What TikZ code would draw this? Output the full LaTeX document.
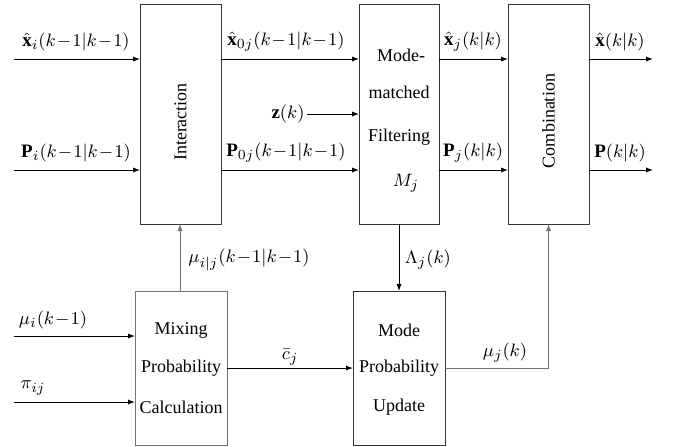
\documentclass[tikz,border=0pt]{standalone}
\usepackage{fontspec}
\setmainfont{Liberation Serif}
\usetikzlibrary{arrows.meta}
\AtBeginDocument{\medmuskip=1mu\relax}
\begin{document}
\begin{tikzpicture}[x=0.5pt,y=-0.5pt,
  blk/.style={draw=black!80,line width=0.5pt,inner sep=0pt,outer sep=0pt},
  gblk/.style={blk,draw=black!55},
  arr/.style={line width=0.5pt,-{Latex[length=3.5pt,width=2.6pt]}},
  garr/.style={arr,draw=black!55},
  txt/.style={font=\fontsize{9}{10}\selectfont,inner sep=0pt},
  lab/.style={inner sep=0pt,font=\fontsize{9.5}{11}\selectfont}]
\useasboundingbox (0,0) rectangle (673,446);
% boxes
\node[blk,minimum width=40.5pt,minimum height=110pt] (int) at (180.5,114) {};
\node[blk,minimum width=40pt,minimum height=110pt] (mmf) at (399,114) {};
\node[blk,minimum width=40.5pt,minimum height=110pt] (comb) at (548.5,114) {};
\node[gblk,minimum width=46pt,minimum height=77pt] (mix) at (181,368) {};
\node[blk,minimum width=46pt,minimum height=77pt] (mpu) at (399,368) {};
% box texts
\node[txt,rotate=90] (tint) at (180.5,122) {Interaction};
\node[txt,rotate=90] (tcomb) at (548.5,121) {Combination};
\node[txt] (tm1) at (401,55) {Mode-};
\node[txt] (tm2) at (399,92) {matched};
\node[txt] (tm3) at (399,137) {Filtering};
\node[lab] (tm4) at (406,183) {$M_j$};
\node[txt] (tx1) at (181,330) {Mixing};
\node[txt] (tx2) at (181,368) {Probability};
\node[txt] (tx3) at (181,407) {Calculation};
\node[txt] (tp1) at (399,330) {Mode};
\node[txt] (tp2) at (399,368) {Probability};
\node[txt] (tp3) at (399,407) {Update};
% coordinates
\coordinate (inA) at (14,59);
\coordinate (inB) at (14,170);
\coordinate (inC) at (14,336);
\coordinate (inD) at (14,402);
\coordinate (zs) at (307,114);
\coordinate (outA) at (653,59);
\coordinate (outB) at (653,170);
% connectors
\draw[arr] (inA) -- (inA -| int.west);
\draw[arr] (inB) -- (inB -| int.west);
\draw[arr] (int.east |- inA) -- (mmf.west |- inA);
\draw[arr] (int.east |- inB) -- (mmf.west |- inB);
\draw[arr] (zs) -- (zs -| mmf.west);
\draw[arr] (mmf.east |- inA) -- (comb.west |- inA);
\draw[arr] (mmf.east |- inB) -- (comb.west |- inB);
\draw[arr] (comb.east |- outA) -- (outA);
\draw[arr] (comb.east |- outB) -- (outB);
\draw[arr] (inC) -- (inC -| mix.west);
\draw[arr] (inD) -- (inD -| mix.west);
\draw[garr] (mix.north -| 180,0) -- (int.south -| 180,0);
\draw[arr] (mmf.south) -- (mpu.north);
\draw[arr] (mix.east) -- (mpu.west);
\draw[garr] (mpu.east) -- (comb.south |- mpu.east) -- (comb.south);
% labels
\node[lab] (l1) at (76,42) {$\hat{\mathbf{x}}_i(k-1|k-1)$};
\node[lab] (l2) at (76,153) {$\mathbf{P}_i(k-1|k-1)$};
\node[lab] (l3) at (286,42) {$\hat{\mathbf{x}}_{0j}(k-1|k-1)$};
\node[lab] (l4) at (286,153) {$\mathbf{P}_{0j}(k-1|k-1)$};
\node[lab] (l5) at (288,114) {$\mathbf{z}(k)$};
\node[lab] (l6) at (473,42) {$\hat{\mathbf{x}}_j(k|k)$};
\node[lab] (l7) at (473,153) {$\mathbf{P}_j(k|k)$};
\node[lab] (l8) at (620,42) {$\hat{\mathbf{x}}(k|k)$};
\node[lab] (l9) at (620,153) {$\mathbf{P}(k|k)$};
\node[lab] (l10) at (249,260) {$\mu_{i|j}(k-1|k-1)$};
\node[lab] (l11) at (428,260) {$\Lambda_j(k)$};
\node[lab] (l12) at (53,320) {$\mu_i(k-1)$};
\node[lab] (l13) at (33,388) {$\pi_{ij}$};
\node[lab] (l14) at (290,357) {$\bar{c}_j$};
\node[lab] (l15) at (505,353) {$\mu_j(k)$};
\end{tikzpicture}
\end{document}
